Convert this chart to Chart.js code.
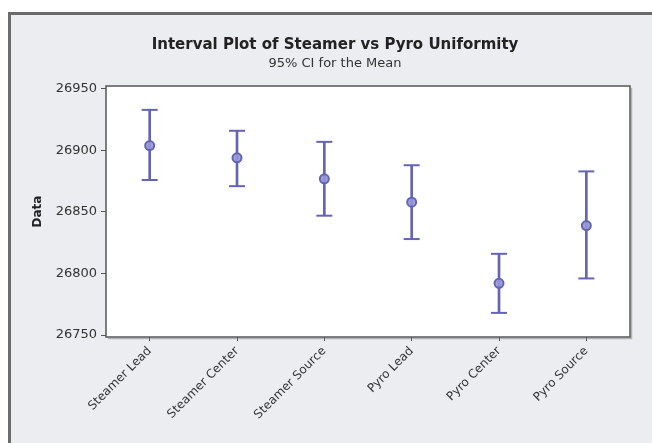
<!DOCTYPE html>
<html>
<head>
<meta charset="utf-8">
<script src="https://cdn.jsdelivr.net/npm/chart.js@4/dist/chart.umd.min.js"></script>
<style>
  html, body { margin: 0; padding: 0; background: #ffffff; }
  #wrap { width: 652px; height: 443px; }
</style>
</head>
<body>
<div id="wrap"><canvas id="interval-chart" width="652" height="443"></canvas></div>
<script>
// Interval plot data
const categories = ['Steamer Lead', 'Steamer Center', 'Steamer Source', 'Pyro Lead', 'Pyro Center', 'Pyro Source'];
const means = [26904, 26894, 26877, 26858, 26792, 26839];
const upper = [26933, 26916, 26907, 26888, 26816, 26883];
const lower = [26876, 26871, 26847, 26828, 26768, 26796];
const yTicks = [26750, 26800, 26850, 26900, 26950];

const markColor = '#6464b4';
const axisColor = '#555555';

// gray frame + white plot area behind everything
const framePlugin = {
  id: 'frame',
  beforeDraw(chart) {
    const ctx = chart.ctx;
    const a = chart.chartArea;
    ctx.save();
    ctx.fillStyle = '#ebedf0';
    ctx.fillRect(8, 12, 700, 500);
    ctx.strokeStyle = '#6b6b6b';
    ctx.lineWidth = 3;
    ctx.strokeRect(9.5, 13.5, 700, 500);
    ctx.fillStyle = '#ffffff';
    ctx.fillRect(a.left, a.top, a.right - a.left, a.bottom - a.top);
    ctx.restore();
  },
  afterDatasetsDraw(chart) {
    const ctx = chart.ctx;
    const a = chart.chartArea;
    ctx.save();
    ctx.strokeStyle = axisColor;
    ctx.lineWidth = 1.5;
    ctx.strokeRect(a.left, a.top, a.right - a.left, a.bottom - a.top);
    ctx.strokeStyle = 'rgba(120,120,120,0.5)';
    ctx.lineWidth = 1.5;
    ctx.beginPath();
    ctx.moveTo(a.right + 1.5, a.top + 2);
    ctx.lineTo(a.right + 1.5, a.bottom + 1.5);
    ctx.lineTo(a.left + 2, a.bottom + 1.5);
    ctx.stroke();
    ctx.restore();
  }
};

const ctx = document.getElementById('interval-chart').getContext('2d');
const intervalChart = new Chart(ctx, {
  type: 'bar',
  data: {
    labels: categories,
    datasets: [
      {
        type: 'line',
        label: 'Mean',
        data: means,
        showLine: false,
        pointStyle: 'circle',
        pointRadius: 4.5,
        pointBorderWidth: 2,
        pointBorderColor: markColor,
        pointBackgroundColor: 'rgba(150,150,215,0.9)',
        order: 0
      },
      {
        type: 'line',
        label: 'Upper',
        data: upper,
        showLine: false,
        pointStyle: 'line',
        pointRadius: 8,
        pointBorderWidth: 2,
        pointBorderColor: markColor,
        order: 1
      },
      {
        type: 'line',
        label: 'Lower',
        data: lower,
        showLine: false,
        pointStyle: 'line',
        pointRadius: 8,
        pointBorderWidth: 2,
        pointBorderColor: markColor,
        order: 1
      },
      {
        label: '95% CI',
        data: lower.map((l, i) => [l, upper[i]]),
        backgroundColor: markColor,
        barThickness: 2,
        order: 2
      }
    ]
  },
  options: {
    responsive: false,
    animation: false,
    layout: { padding: { top: 20, left: 40, right: 22, bottom: 0 } },
    plugins: {
      legend: { display: false },
      tooltip: { enabled: false },
      title: {
        display: true,
        text: 'Interval Plot of Steamer vs Pyro Uniformity',
        color: '#222222',
        font: { family: 'DejaVu Sans', size: 15, weight: 'bold' },
        padding: { top: 16, bottom: 0 }
      },
      subtitle: {
        display: true,
        text: '95% CI for the Mean',
        color: '#333333',
        font: { family: 'DejaVu Sans', size: 13 },
        padding: { top: 1.5, bottom: 14.9 }
      }
    },
    scales: {
      x: {
        offset: true,
        border: { display: false },
        grid: { drawOnChartArea: false, drawTicks: true, tickLength: 4, color: axisColor, offset: false },
        ticks: {
          color: '#333333',
          font: { family: 'DejaVu Sans', size: 12 },
          maxRotation: 45,
          minRotation: 45,
          padding: 3
        },
        afterFit(scale) { scale.height = 106; }
      },
      y: {
        min: 26748.4,
        max: 26952.4,
        border: { display: false },
        grid: { drawOnChartArea: false, drawTicks: true, tickLength: 5, color: axisColor },
        ticks: {
          color: '#333333',
          font: { family: 'DejaVu Sans', size: 13 },
          padding: 4,
          callback: (v) => String(v)
        },
        afterBuildTicks(scale) { scale.ticks = yTicks.map(v => ({ value: v })); },
        title: {
          display: true,
          text: 'Data',
          color: '#222222',
          font: { family: 'DejaVu Sans', size: 12, weight: 'bold' },
          padding: { top: -9.2, bottom: 0 }
        },
        afterFit(scale) { scale.width = 66; }
      }
    }
  },
  plugins: [framePlugin]
});
</script>
</body>
</html>
